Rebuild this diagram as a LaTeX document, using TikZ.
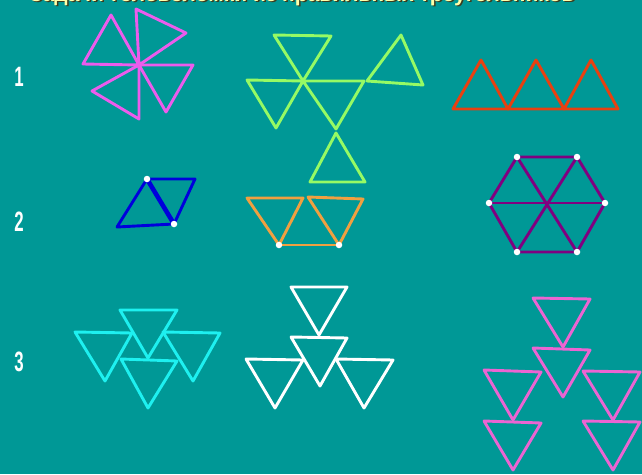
\documentclass[tikz,border=0pt]{standalone}
\usepackage{fontspec}
\setmainfont{Liberation Sans}
\usetikzlibrary{positioning}
\definecolor{boardcol}{RGB}{0,152,150}
\definecolor{pinwheel}{RGB}{236,92,236}
\definecolor{leaf}{RGB}{150,250,100}
\definecolor{saw}{RGB}{232,64,16}
\definecolor{rhomb}{RGB}{0,0,220}
\definecolor{pair}{RGB}{240,160,64}
\definecolor{hexa}{RGB}{128,0,128}
\definecolor{fourtri}{RGB}{30,240,240}
\definecolor{sixtri}{RGB}{236,100,210}
\definecolor{titlecol}{RGB}{255,255,170}
\definecolor{titleshade}{RGB}{60,60,30}
\tikzset{
  board/.style={x=1pt, y=-1pt, line join=round, line cap=round},
  % one side of a triangle
  edge/.style={line width=2.9pt},
  % the side that is picked out
  bedge/.style={line width=4.6pt},
  % a marked corner
  dot/.style={circle, fill=white, inner sep=0pt, minimum size=6.5pt},
  % row number on the left
  rownum/.style={font=\bfseries\fontsize{28}{28}\selectfont, text=white,
                 xscale=0.6, inner sep=0pt},
  heading/.style={font=\bfseries\fontsize{21}{21}\selectfont, anchor=base,
                  inner sep=0pt},
}
% a triangle: colour, name, three corners
\newcommand{\tri}[5]{%
  \coordinate (#2a) at (#3);%
  \coordinate (#2b) at (#4);%
  \coordinate (#2c) at (#5);%
  \draw[edge, #1] (#2a) -- (#2b) -- (#2c) -- cycle;%
}
\newcommand{\ttltext}{Задачи-головоломки из правильных треугольников}

\begin{document}
\begin{tikzpicture}[board]
  \useasboundingbox (0,0) rectangle (642,474);
  \clip (0,0) rectangle (642,474);
  \fill[boardcol] (0,0) rectangle (642,474);

  % heading, cut off at the top edge
  \node[heading, text=titleshade] (ttlsh) at (303.5,2.5) {\ttltext};
  \node[heading, text=titlecol] (ttl) at (302,1) {\ttltext};

  % row numbers
  \node[rownum] (n1) at (19,77) {1};
  \node[rownum] (n2) at (19,222) {2};
  \node[rownum] (n3) at (19,362) {3};

  % ---- row 1 -------------------------------------------------------------
  % pinwheel of four
  \coordinate (pc) at (139,65);
  \tri{pinwheel}{pa}{111,15}{83,64}{139,65}
  \tri{pinwheel}{pb}{136,9}{186,33}{139,65}
  \tri{pinwheel}{pd}{139,65}{193,65}{166,112}
  \tri{pinwheel}{pe}{139,65}{92,91}{139,119}

  % five green
  \tri{leaf}{ga}{274,35}{331,36}{303,81}
  \tri{leaf}{gb}{247,80}{303,81}{276,128}
  \tri{leaf}{gc}{303,81}{364,81}{336,129}
  \tri{leaf}{gd}{336,133}{310,182}{365,182}
  \tri{leaf}{ge}{401,35}{367,81}{423,85}

  % three in a row
  \tri{saw}{sa}{453,109}{481,60}{508,109}
  \tri{saw}{sb}{508,109}{536,60}{564,109}
  \tri{saw}{sc}{564,109}{591,60}{618,109}

  % ---- row 2 -------------------------------------------------------------
  % rhombus with its diagonal picked out
  \coordinate (rtl) at (147,179);
  \coordinate (rtr) at (195,179);
  \coordinate (rbl) at (117,227);
  \coordinate (rbr) at (174,224);
  \draw[edge, rhomb] (rtl) -- (rbl) -- (rbr);
  \draw[edge, rhomb] (rtl) -- (rtr) -- (rbr);
  \draw[bedge, rhomb] (rtl) -- (rbr);
  \node[dot] (rd1) at (rtl) {};
  \node[dot] (rd2) at (rbr) {};

  % two orange, bottoms joined
  \tri{pair}{oa}{247,198}{303,198}{279,245}
  \tri{pair}{ob}{308,197}{363,199}{339,245}
  \draw[edge, pair] (oac) -- (obc);
  \node[dot] (od1) at (oac) {};
  \node[dot] (od2) at (obc) {};

  % hexagon of six
  \coordinate (hc) at (547,204);
  \coordinate (h1) at (517,157);
  \coordinate (h2) at (577,157);
  \coordinate (h3) at (605,203);
  \coordinate (h4) at (577,252);
  \coordinate (h5) at (517,252);
  \coordinate (h6) at (489,203);
  \draw[edge, hexa] (h1) -- (h2) -- (h3) -- (h4) -- (h5) -- (h6) -- cycle;
  \draw[edge, hexa] (h1) -- (h4);
  \draw[edge, hexa] (h2) -- (h5);
  \draw[edge, hexa] (h3) -- (h6);
  \foreach \k in {1,...,6}
    \node[dot] (hd\k) at (h\k) {};

  % ---- row 3 -------------------------------------------------------------
  % four cyan
  \tri{fourtri}{ca}{120,310}{177,310}{148,358}
  \tri{fourtri}{cb}{75,332}{132,333}{105,381}
  \tri{fourtri}{cc}{163,332}{220,333}{193,381}
  \tri{fourtri}{cd}{121,359}{177,361}{148,408}

  % four white
  \tri{white}{wa}{291,287}{347,287}{319,335}
  \tri{white}{wb}{291,337}{347,338}{320,386}
  \tri{white}{wc}{246,359}{303,360}{275,408}
  \tri{white}{wd}{336,359}{393,360}{364,408}

  % six pink
  \tri{sixtri}{ka}{533,298}{590,299}{563,347}
  \tri{sixtri}{kb}{533,348}{590,350}{563,397}
  \tri{sixtri}{kc}{484,370}{541,372}{513,420}
  \tri{sixtri}{kd}{484,421}{541,423}{513,470}
  \tri{sixtri}{ke}{583,371}{640,372}{613,420}
  \tri{sixtri}{kf}{583,421}{640,422}{613,470}
\end{tikzpicture}
\end{document}
